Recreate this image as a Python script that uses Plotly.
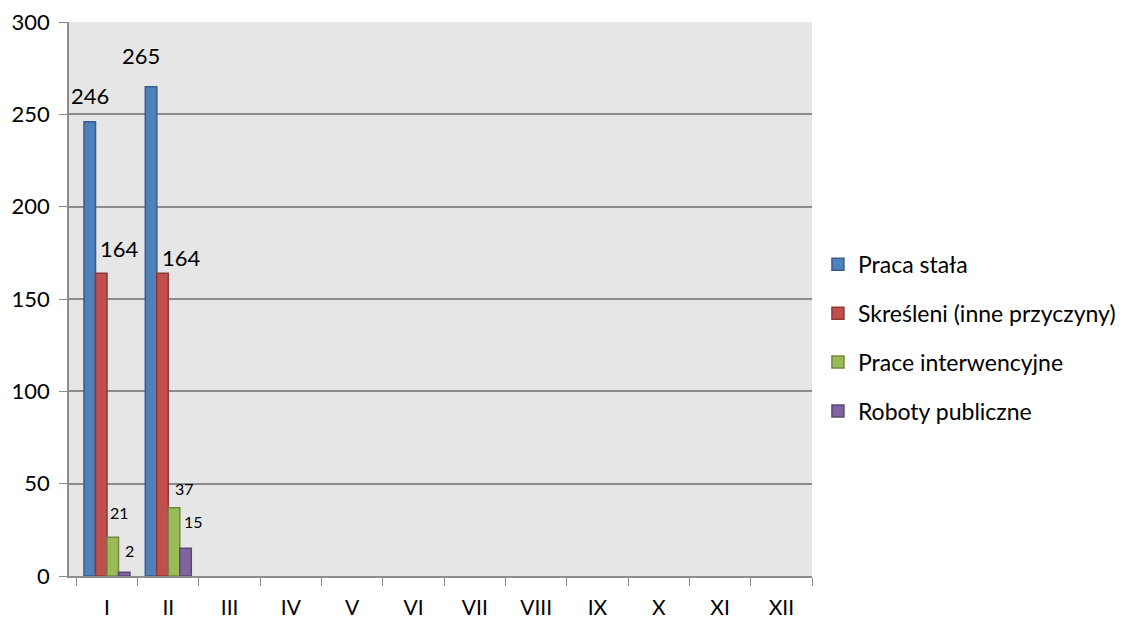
import plotly.graph_objects as go

months = ["I", "II", "III", "IV", "V", "VI", "VII", "VIII", "IX", "X", "XI", "XII"]
praca_stala = [246, 265] + [None] * 10
skresleni = [164, 164] + [None] * 10
prace_interw = [21, 37] + [None] * 10
roboty = [2, 15] + [None] * 10

series = [
    ("Praca stała", praca_stala, "#4F81BD", "#385D8A"),
    ("Skreśleni (inne przyczyny)", skresleni, "#C0504D", "#8C3836"),
    ("Prace interwencyjne", prace_interw, "#9BBB59", "#71893F"),
    ("Roboty publiczne", roboty, "#8064A2", "#5C4776"),
]

FONT = "Lato"

fig = go.Figure()
for i, (name, vals, col, border) in enumerate(series):
    fig.add_trace(go.Bar(
        x=months, y=vals, name=name,
        marker=dict(color=col, line=dict(color=border, width=1.5)),
        legendgroup=f"g{i}",
    ))

# label offsets (pixels) per series per month: (xshift, yshift, fontsize)
label_style = {
    0: [(-17, 26, 22), (-27, 31, 22)],
    1: [(12, 25, 22), (13, 16, 22)],
    2: [(12, 25, 16), (16, 19, 16)],
    3: [(22, 22, 16), (25, 27, 16)],
}
for si, (name, vals, col, border) in enumerate(series):
    for mi, v in enumerate(vals):
        if v is None:
            continue
        xs, ys, fs = label_style[si][mi]
        fig.add_annotation(x=months[mi], y=v, text=str(v), showarrow=False,
                           xshift=xs, yshift=ys, yanchor="middle",
                           font=dict(family=FONT, size=fs, color="black"))

fig.update_layout(
    width=1143, height=623,
    margin=dict(l=61, r=339, t=14, b=55),
    paper_bgcolor="white", plot_bgcolor="#E6E6E6",
    barmode="group", bargap=0.25, bargroupgap=0,
    font=dict(family=FONT, size=22, color="black"),
    showlegend=True,
    legend=dict(x=1.008, y=0.43, yanchor="middle", xanchor="left",
                traceorder="grouped", tracegroupgap=16,
                font=dict(family=FONT, size=23)),
    xaxis=dict(type="category", tickson="boundaries", ticks="outside",
               ticklen=8, tickcolor="#8C8C8C", showline=True,
               linecolor="#8C8C8C", linewidth=1.5, showgrid=False,
               ticklabelstandoff=12, tickfont=dict(size=21),
               automargin=False, ticklabeloverflow="allow"),
    yaxis=dict(range=[0, 300], dtick=50, ticks="outside", ticklen=8,
               tickcolor="#8C8C8C", showline=True, linecolor="#8C8C8C",
               linewidth=1.5, showgrid=True, gridcolor="#8C8C8C",
               gridwidth=1.5, zeroline=False, ticklabelstandoff=5,
               tickfont=dict(size=22), automargin=False,
               ticklabeloverflow="allow"),
)

fig.write_html("out.html")
